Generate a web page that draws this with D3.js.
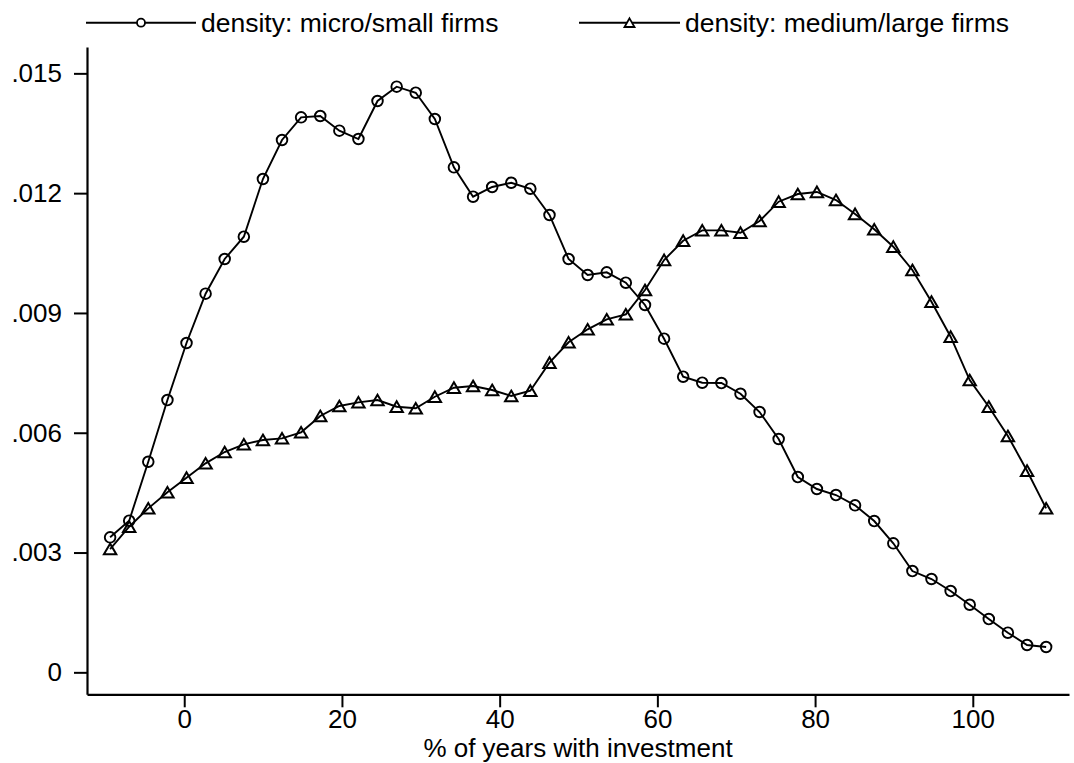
<!DOCTYPE html>
<html>
<head>
<meta charset="utf-8">
<script src="https://cdn.jsdelivr.net/npm/d3@7"></script>
<style>
  body { margin: 0; background: #fff; }
  text { font-family: "Liberation Sans", Arial, sans-serif; fill: #000; }
</style>
</head>
<body>
<div id="chart-area"></div>
<script>
const width = 1074;
const height = 763;

// % of years with investment (kdensity evaluation grid, 50 points)
const xGrid = [-9.40, -6.98, -4.56, -2.13, 0.29, 2.71, 5.13, 7.56, 9.98, 12.40,
    14.82, 17.25, 19.67, 22.09, 24.51, 26.94, 29.36, 31.78, 34.20, 36.63,
    39.05, 41.47, 43.89, 46.32, 48.74, 51.16, 53.58, 56.00, 58.43, 60.85,
    63.27, 65.69, 68.12, 70.54, 72.96, 75.38, 77.81, 80.23, 82.65, 85.07,
    87.50, 89.92, 92.34, 94.76, 97.19, 99.61, 102.03, 104.45, 106.88, 109.30];

// density values (x 0.001)
const microSmall = [3.381, 3.797, 5.274, 6.819, 8.247, 9.482, 10.351, 10.909, 12.354, 13.331,
    13.899, 13.932, 13.564, 13.356, 14.308, 14.666, 14.515, 13.857, 12.647, 11.911,
    12.154, 12.261, 12.111, 11.453, 10.351, 9.950, 10.018, 9.757, 9.199, 8.355,
    7.403, 7.253, 7.245, 6.977, 6.519, 5.843, 4.891, 4.591, 4.440, 4.182,
    3.789, 3.231, 2.537, 2.337, 2.036, 1.693, 1.335, 0.992, 0.684, 0.634];

const mediumLarge = [3.088, 3.646, 4.107, 4.508, 4.874, 5.234, 5.517, 5.710, 5.818, 5.860,
    6.011, 6.419, 6.669, 6.762, 6.819, 6.652, 6.612, 6.902, 7.128, 7.170,
    7.070, 6.920, 7.052, 7.754, 8.264, 8.590, 8.840, 8.966, 9.574, 10.326,
    10.809, 11.069, 11.069, 11.009, 11.302, 11.786, 11.978, 12.029, 11.828, 11.478,
    11.094, 10.659, 10.075, 9.281, 8.405, 7.320, 6.652, 5.918, 5.049, 4.107];

const xTicks = [0, 20, 40, 60, 80, 100];
const yTicks = [0, 0.003, 0.006, 0.009, 0.012, 0.015];
const seriesNames = ['density: micro/small firms', 'density: medium/large firms'];

let svg = d3.select('#chart-area').append('svg')
    .attr('width', width)
    .attr('height', height);

let x = d3.scaleLinear()
    .domain([-12.33, 112.2])
    .range([87, 1069]);

let y = d3.scaleLinear()
    .domain([-0.00055, 0.01566])
    .range([694.3, 47]);

const fontSize = 26;

// y axis
let yAxis = d3.axisLeft(y)
    .tickValues(yTicks)
    .tickSize(13)
    .tickSizeOuter(0)
    .tickPadding(12)
    .tickFormat((d) => { return d === 0 ? '0' : d3.format('.3f')(d).replace(/^0/, ''); });

let gy = svg.append('g')
    .attr('transform', 'translate(87,0)')
    .call(yAxis);

// x axis
let xAxis = d3.axisBottom(x)
    .tickValues(xTicks)
    .tickSize(13)
    .tickSizeOuter(0)
    .tickPadding(2);

let gx = svg.append('g')
    .attr('transform', 'translate(0,694.3)')
    .call(xAxis);

[gx, gy].forEach((g) => {
    g.select('.domain').attr('stroke', '#000').attr('stroke-width', 2.2);
    g.selectAll('.tick line').attr('stroke', '#000').attr('stroke-width', 2);
    g.selectAll('.tick text')
        .attr('font-size', fontSize)
        .attr('font-family', '"Liberation Sans", Arial, sans-serif')
        .attr('fill', '#000');
});

svg.append('text')
    .attr('x', 578)
    .attr('y', 748)
    .attr('dy', '0.35em')
    .attr('text-anchor', 'middle')
    .attr('font-size', fontSize)
    .text('% of years with investment');

// series
const triPath = 'M0,-5.4L6.2,5.2L-6.2,5.2Z';

let line = d3.line()
    .x((d) => { return x(d[0]); })
    .y((d) => { return y(d[1] / 1000); });

let micro = xGrid.map((v, i) => { return [v, microSmall[i]]; });
let medium = xGrid.map((v, i) => { return [v, mediumLarge[i]]; });

svg.append('path')
    .datum(medium)
    .attr('d', line)
    .attr('fill', 'none')
    .attr('stroke', '#000')
    .attr('stroke-width', 1.9);

svg.append('path')
    .datum(micro)
    .attr('d', line)
    .attr('fill', 'none')
    .attr('stroke', '#000')
    .attr('stroke-width', 1.9);

svg.selectAll('circle.micro').data(micro)
    .enter().append('circle')
    .attr('class', 'micro')
    .attr('cx', (d) => { return x(d[0]); })
    .attr('cy', (d) => { return y(d[1] / 1000); })
    .attr('r', 5.3)
    .attr('fill', 'none')
    .attr('stroke', '#000')
    .attr('stroke-width', 1.9);

svg.selectAll('path.medium').data(medium)
    .enter().append('path')
    .attr('class', 'medium')
    .attr('d', triPath)
    .attr('transform', (d) => { return 'translate(' + x(d[0]) + ',' + y(d[1] / 1000) + ')'; })
    .attr('fill', 'none')
    .attr('stroke', '#000')
    .attr('stroke-width', 2);

// legend
let legend = svg.append('g');
let legendItems = [
    { name: seriesNames[0], x0: 86, x1: 196, mark: 'circle' },
    { name: seriesNames[1], x0: 579, x1: 680, mark: 'tri' }
];

legendItems.forEach((d) => {
    legend.append('line')
        .attr('x1', d.x0).attr('x2', d.x1)
        .attr('y1', 22.7).attr('y2', 22.7)
        .attr('stroke', '#000')
        .attr('stroke-width', 2);
    let cx = (d.x0 + d.x1) / 2;
    if (d.mark === 'circle') {
        legend.append('circle')
            .attr('cx', cx).attr('cy', 22.7).attr('r', 4)
            .attr('fill', '#fff').attr('stroke', '#000').attr('stroke-width', 1.8);
    } else {
        legend.append('path')
            .attr('d', 'M0,-4.3L5,4.3L-5,4.3Z')
            .attr('transform', 'translate(' + cx + ',22.7)')
            .attr('fill', '#fff').attr('stroke', '#000').attr('stroke-width', 1.8);
    }
    legend.append('text')
        .attr('x', d.x1 + 5)
        .attr('y', 22.7)
        .attr('dy', '0.35em')
        .attr('font-size', 26.5)
        .text(d.name);
});
</script>
</body>
</html>
